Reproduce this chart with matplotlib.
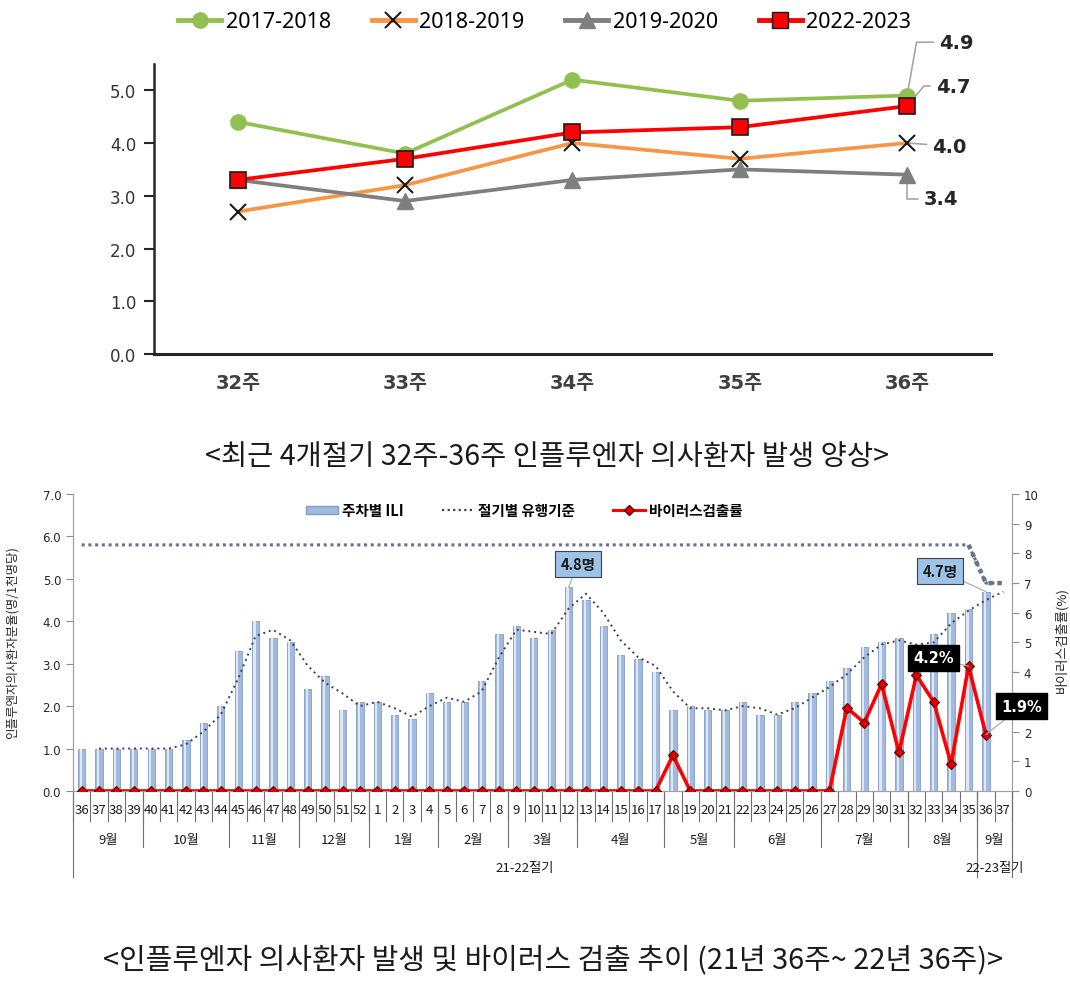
import matplotlib
matplotlib.use('Agg')
import matplotlib.pyplot as plt
import numpy as np
import pandas as pd
from matplotlib.lines import Line2D
from matplotlib.patches import Patch

plt.rcParams['font.family'] = ['DejaVu Sans', 'Noto Sans CJK KR']
KR = ['Noto Sans CJK KR', 'DejaVu Sans']

# top chart: last 4 seasons, weeks 32-36
top_weeks = ['32주', '33주', '34주', '35주', '36주']
s_1718 = [4.4, 3.8, 5.2, 4.8, 4.9]
s_1819 = [2.7, 3.2, 4.0, 3.7, 4.0]
s_1920 = [3.3, 2.9, 3.3, 3.5, 3.4]
s_2223 = [3.3, 3.7, 4.2, 4.3, 4.7]

# bottom chart: 2021 wk36 ~ 2022 wk37
week_labels = ['36', '37', '38', '39', '40', '41', '42', '43', '44', '45', '46', '47', '48',
               '49', '50', '51', '52', '1', '2', '3', '4', '5', '6', '7', '8', '9', '10',
               '11', '12', '13', '14', '15', '16', '17', '18', '19', '20', '21', '22', '23',
               '24', '25', '26', '27', '28', '29', '30', '31', '32', '33', '34', '35', '36', '37']
ili = [1.0, 1.0, 1.0, 1.0, 1.0, 1.0, 1.2, 1.6, 2.0, 3.3, 4.0, 3.6, 3.5,
       2.4, 2.7, 1.9, 2.1, 2.1, 1.8, 1.7, 2.3, 2.1, 2.1, 2.6, 3.7, 3.9, 3.6,
       3.8, 4.8, 4.5, 3.9, 3.2, 3.1, 2.8, 1.9, 2.0, 1.9, 1.9, 2.1, 1.8,
       1.8, 2.1, 2.3, 2.6, 2.9, 3.4, 3.5, 3.6, 3.3, 3.7, 4.2, 4.3, 4.7, np.nan]
virus = [0, 0, 0, 0, 0, 0, 0, 0, 0, 0, 0, 0, 0,
         0, 0, 0, 0, 0, 0, 0, 0, 0, 0, 0, 0, 0, 0,
         0, 0, 0, 0, 0, 0, 0, 1.2, 0, 0, 0, 0, 0,
         0, 0, 0, 0, 2.8, 2.3, 3.6, 1.3, 3.9, 3.0, 0.9, 4.2, 1.9, np.nan]
months = ['9월', '10월', '11월', '12월', '1월', '2월', '3월', '4월', '5월', '6월', '7월', '8월', '9월']
month_sizes = [4, 5, 4, 4, 4, 4, 4, 5, 4, 5, 5, 4, 2]
seasons = ['21-22절기', '22-23절기']
season_sizes = [52, 2]
season_thresholds = [5.8, 4.9]

fig = plt.figure(figsize=(10.7, 9.87), dpi=100)

# ---------------- top chart ----------------
ax = fig.add_axes([0.144, 0.6403, 0.782, 0.294])
xt = np.arange(len(top_weeks))
ax.plot(xt, s_1718, color='#92c050', lw=2.7, marker='o', ms=11, mec='#92c050', zorder=3)
ax.plot(xt, s_1819, color='#f79646', lw=2.7, marker='x', ms=11, mec='#1a1a1a', mew=1.5, zorder=3)
ax.plot(xt, s_1920, color='#7f7f7f', lw=2.7, marker='^', ms=12, mec='#7f7f7f', zorder=3)
ax.plot(xt, s_2223, color='#ff0000', lw=2.7, marker='s', ms=12, mfc='#ff0000', mec='#1a1a1a', mew=1.2, zorder=4)
ax.set_xlim(-0.5, 4.5)
ax.set_ylim(0, 5.5)
ax.set_yticks(np.arange(0, 5.01, 1.0))
ax.set_yticklabels(['%.1f' % v for v in np.arange(0, 5.01, 1.0)], fontsize=12, color='#333333')
ax.set_xticks(xt)
ax.set_xticklabels(top_weeks, fontsize=14, fontweight='bold', color='#404040')
ax.tick_params(axis='y', direction='out', length=7, width=1.5, color='#262626', pad=6)
ax.tick_params(axis='x', length=0, pad=14)
for s in ['top', 'right']:
    ax.spines[s].set_visible(False)
ax.spines['left'].set_linewidth(1.8)
ax.spines['bottom'].set_linewidth(2.2)
ax.spines['left'].set_color('#262626')
ax.spines['bottom'].set_color('#262626')

last = len(top_weeks) - 1
end_labels = [(s_1718[last], 4.19, 5.91, 'angle,angleA=0,angleB=80'),
              (s_2223[last], 4.17, 5.08, 'angle,angleA=0,angleB=50'),
              (s_1819[last], 4.15, 3.94, 'arc3'),
              (s_1920[last], 4.10, 2.94, 'angle,angleA=0,angleB=90')]
for val, tx, ty, cs in end_labels:
    ax.annotate('%.1f' % val, xy=(last, val), xytext=(tx, ty), ha='left', va='center',
                fontsize=14, fontweight='bold', color='#262626', annotation_clip=False,
                zorder=1,
                arrowprops=dict(arrowstyle='-', color='#a6a6a6', lw=1.2,
                                connectionstyle=cs, shrinkA=2, shrinkB=0))

top_handles = [Line2D([], [], color='#92c050', lw=3.5, marker='o', ms=11, mec='#92c050'),
               Line2D([], [], color='#f79646', lw=3.5, marker='x', ms=11, mec='#1a1a1a', mew=1.5),
               Line2D([], [], color='#7f7f7f', lw=3.5, marker='^', ms=11, mec='#7f7f7f'),
               Line2D([], [], color='#ff0000', lw=3.5, marker='s', ms=11, mfc='#ff0000', mec='#1a1a1a')]
fig.legend(top_handles, ['2017-2018', '2018-2019', '2019-2020', '2022-2023'],
           loc='center', bbox_to_anchor=(0.509, 0.977), ncol=4, frameon=False,
           prop=dict(family='Noto Sans', size=15.5), handlelength=2.0, handletextpad=0.2,
           columnspacing=1.9)

fig.text(0.511, 1 - 457 / 987, '<최근 4개절기 32주-36주 인플루엔자 의사환자 발생 양상>',
         ha='center', va='center', fontsize=20.5, family=KR, color='#1a1a1a')

# ---------------- bottom chart ----------------
axb = fig.add_axes([0.0682, 0.1976, 0.8776, 0.3009])
axr = axb.twinx()
n = len(week_labels)
x = np.arange(n)

axb.bar(x, ili, width=0.42, color='#a3b9de', edgecolor='#7f9ccb', lw=0.6, zorder=2)
axb.bar(x - 0.06, ili, width=0.12, color='#dfe8f5', lw=0, zorder=2)

trend = pd.Series(ili).rolling(2, min_periods=1).mean()
trend.iloc[0] = np.nan
axb.plot(x, trend, color='#404040', lw=1.4, ls=(0, (1, 2)), zorder=3)

threshold = np.repeat(season_thresholds, season_sizes)
axb.plot(x, threshold, color='#66738a', lw=2.2, ls=(0, (1, 1.2)), zorder=3)
cut = season_sizes[0] - 1
axb.plot(x[cut:], threshold[cut:], color='#66738a', lw=3.2, ls=(0, (1, 1)), zorder=3)

axr.plot(x, virus, color='#ff0000', lw=2.6, marker='D', ms=5, mfc='#e00000', mec='#5a0000',
         mew=0.8, zorder=4)

axb.set_xlim(-0.5, n - 0.5)
axb.set_ylim(0, 7)
axr.set_ylim(0, 10)
axb.set_yticks(np.arange(0, 7.01, 1.0))
axb.set_yticklabels(['%.1f' % v for v in np.arange(0, 7.01, 1.0)], fontsize=8.5, color='#262626')
axr.set_yticks(np.arange(0, 11, 1))
# "3" sits behind the 1.9% callout box in the original
axr.set_yticklabels(['' if v == 3 else str(v) for v in range(11)], fontsize=8.5, color='#262626')
axb.set_xticks([])
axb.tick_params(axis='y', direction='out', length=5, color='#8c8c8c')
axr.tick_params(axis='y', direction='out', length=5, color='#8c8c8c')
for a in (axb, axr):
    a.spines['top'].set_visible(False)
    for s in ['left', 'right', 'bottom']:
        a.spines[s].set_color('#a0a0a0')

# category table under the axis
tr = axb.get_xaxis_transform()
line_kw = dict(color='#6f6f6f', lw=0.8, clip_on=False, transform=tr)
for i, lab in enumerate(week_labels):
    axb.text(i, -0.062, lab, ha='center', va='center', fontsize=9.5, family=KR,
             transform=tr, color='#1a1a1a')
for b in np.arange(-0.5, n, 1.0):
    axb.plot([b, b], [0, -0.101], **line_kw)
start = -0.5
for m, sz in zip(months, month_sizes):
    axb.text(start + sz / 2, -0.162, m, ha='center', va='center', fontsize=9.5, family=KR,
             transform=tr, color='#1a1a1a')
    start += sz
    axb.plot([start, start], [0, -0.19], **line_kw)
start = -0.5
axb.plot([start, start], [0, -0.29], **line_kw)
for sname, sz in zip(seasons, season_sizes):
    axb.text(start + sz / 2, -0.258, sname, ha='center', va='center', fontsize=9.5, family=KR,
             transform=tr, color='#1a1a1a')
    start += sz
    axb.plot([start, start], [0, -0.29], **line_kw)

# callouts
scale = 10 / 7
pk = int(np.nanargmax(ili[:40]))
axr.annotate('%.1f명' % ili[pk], xy=(pk, ili[pk] * scale), xytext=(pk + 0.54, 5.35 * scale),
             ha='center', va='center', fontsize=10.5, fontweight='bold', family=KR, color='#1a1a1a',
             bbox=dict(boxstyle='square,pad=0.35', fc='#9dc3e6', ec='#404040', lw=0.8),
             arrowprops=dict(arrowstyle='-', color='#a6a6a6', lw=0.8, shrinkA=0, shrinkB=0),
             annotation_clip=False, zorder=6)
lw_i = n - 2
axr.annotate('%.1f명' % ili[lw_i], xy=(lw_i, ili[lw_i] * scale), xytext=(lw_i - 2.64, 5.19 * scale),
             ha='center', va='center', fontsize=10.5, fontweight='bold', family=KR, color='#1a1a1a',
             bbox=dict(boxstyle='square,pad=0.35', fc='#9dc3e6', ec='#404040', lw=0.8),
             arrowprops=dict(arrowstyle='-', color='#a6a6a6', lw=0.8, shrinkA=0, shrinkB=0),
             annotation_clip=False, zorder=6)
for idx, tx, ty in [(n - 3, n - 5.0, 4.48), (n - 2, n + 0.07, 2.86)]:
    axr.annotate('%.1f%%' % virus[idx], xy=(idx, virus[idx]), xytext=(tx, ty),
                 ha='center', va='center', fontsize=10.5, fontweight='bold', color='white',
                 bbox=dict(boxstyle='square,pad=0.35', fc='black', ec='black'),
                 arrowprops=dict(arrowstyle='-', color='#a6a6a6', lw=0.8, shrinkA=0, shrinkB=0),
                 annotation_clip=False, zorder=6)

fig.text(12 / 1070, 1 - 643 / 987, '인플루엔자의사환자분율(명/1천명당)', rotation=90,
         ha='center', va='center', fontsize=9, family=KR, color='#262626')
fig.text(1062 / 1070, 1 - 640 / 987, '바이러스검출률(%)', rotation=90,
         ha='center', va='center', fontsize=9.5, family=KR, color='#262626')

bot_handles = [Patch(facecolor='#a3b9de', edgecolor='#7f9ccb'),
               Line2D([], [], color='#404040', lw=1.6, ls=(0, (1, 1.5))),
               Line2D([], [], color='#ff0000', lw=2.2, marker='D', ms=5, mfc='#e00000', mec='#5a0000')]
axr.legend(bot_handles, ['주차별 ILI', '절기별 유행기준', '바이러스검출률'], loc='center',
           bbox_to_anchor=(0.49, 1 - 511 / 987), bbox_transform=fig.transFigure, ncol=3,
           frameon=False, prop=dict(family=KR, weight='bold', size=10.5), handlelength=2.2,
           handleheight=0.5, columnspacing=2.6, handletextpad=0.3)

fig.text(0.517, 1 - 960 / 987, '<인플루엔자 의사환자 발생 및 바이러스 검출 추이 (21년 36주~ 22년 36주)>',
         ha='center', va='center', fontsize=20.8, family=KR, color='#1a1a1a')

fig.savefig('out.png', dpi=100)
